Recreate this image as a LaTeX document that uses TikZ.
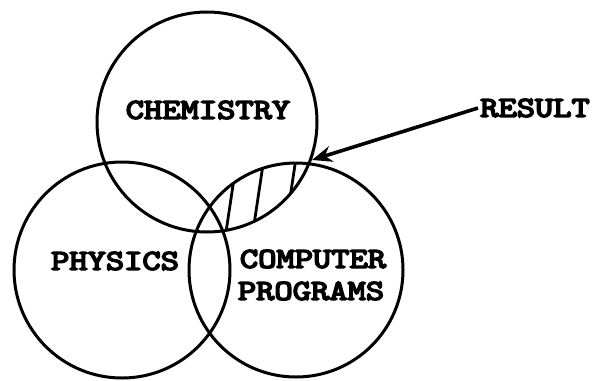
\documentclass[tikz,border=0pt]{standalone}
\usepackage{fontspec}
\newfontfamily\typefont[BoldFont=lmmono10-regular.otf,BoldFeatures={FakeBold=5}]{lmmono10-regular.otf}
\usetikzlibrary{arrows.meta,positioning}
\newcommand{\typed}[1]{\scalebox{1.2}[1]{#1}}
\begin{document}
\begin{tikzpicture}
[x=1pt,y=-1pt,
    set/.style={draw,shape=circle,line width=3pt,inner sep=0pt},
    lab/.style={font=\typefont\bfseries\fontsize{29}{31}\selectfont,inner sep=2pt},
    hatch/.style={line width=2.8pt},
    myedge/.style={-{Stealth[length=20pt,width=16pt]},line width=3.6pt}]
\useasboundingbox (0,0) rectangle (593,380);
%%%%%%%%%%
%% sets
\node (chem) [set,minimum size=220pt] at (207,122) {};
\node (phys) [set,minimum size=216pt] at (122,270) {};
\node (comp) [set,minimum size=214pt] at (296,270) {};
%% labels
\node (tchem) [lab] at (208,110) {\typed{CHEMISTRY}};
\node (tphys) [lab] at (115,261) {\typed{PHYSICS}};
\node (tcomp) [lab] at (313,259) {\typed{COMPUTER}};
\node (tprog) [lab] at (311,291) {\typed{PROGRAMS}};
\node (tres) [lab] at (535,108) {\typed{RESULT}};
%% hatching of chemistry and computer programs
\begin{scope}
\clip (chem.center) circle[radius=110];
\clip (comp.center) circle[radius=107];
\draw[hatch] (223,252) -- (235,172);
\draw[hatch] (252,238) -- (264,158);
\draw[hatch] (287,218) -- (299,138);
\end{scope}
%% result
\coordinate (tip) at (312,160);
\draw[myedge] (tres.west) -- (tip);
%%
\end{tikzpicture}
\end{document}
